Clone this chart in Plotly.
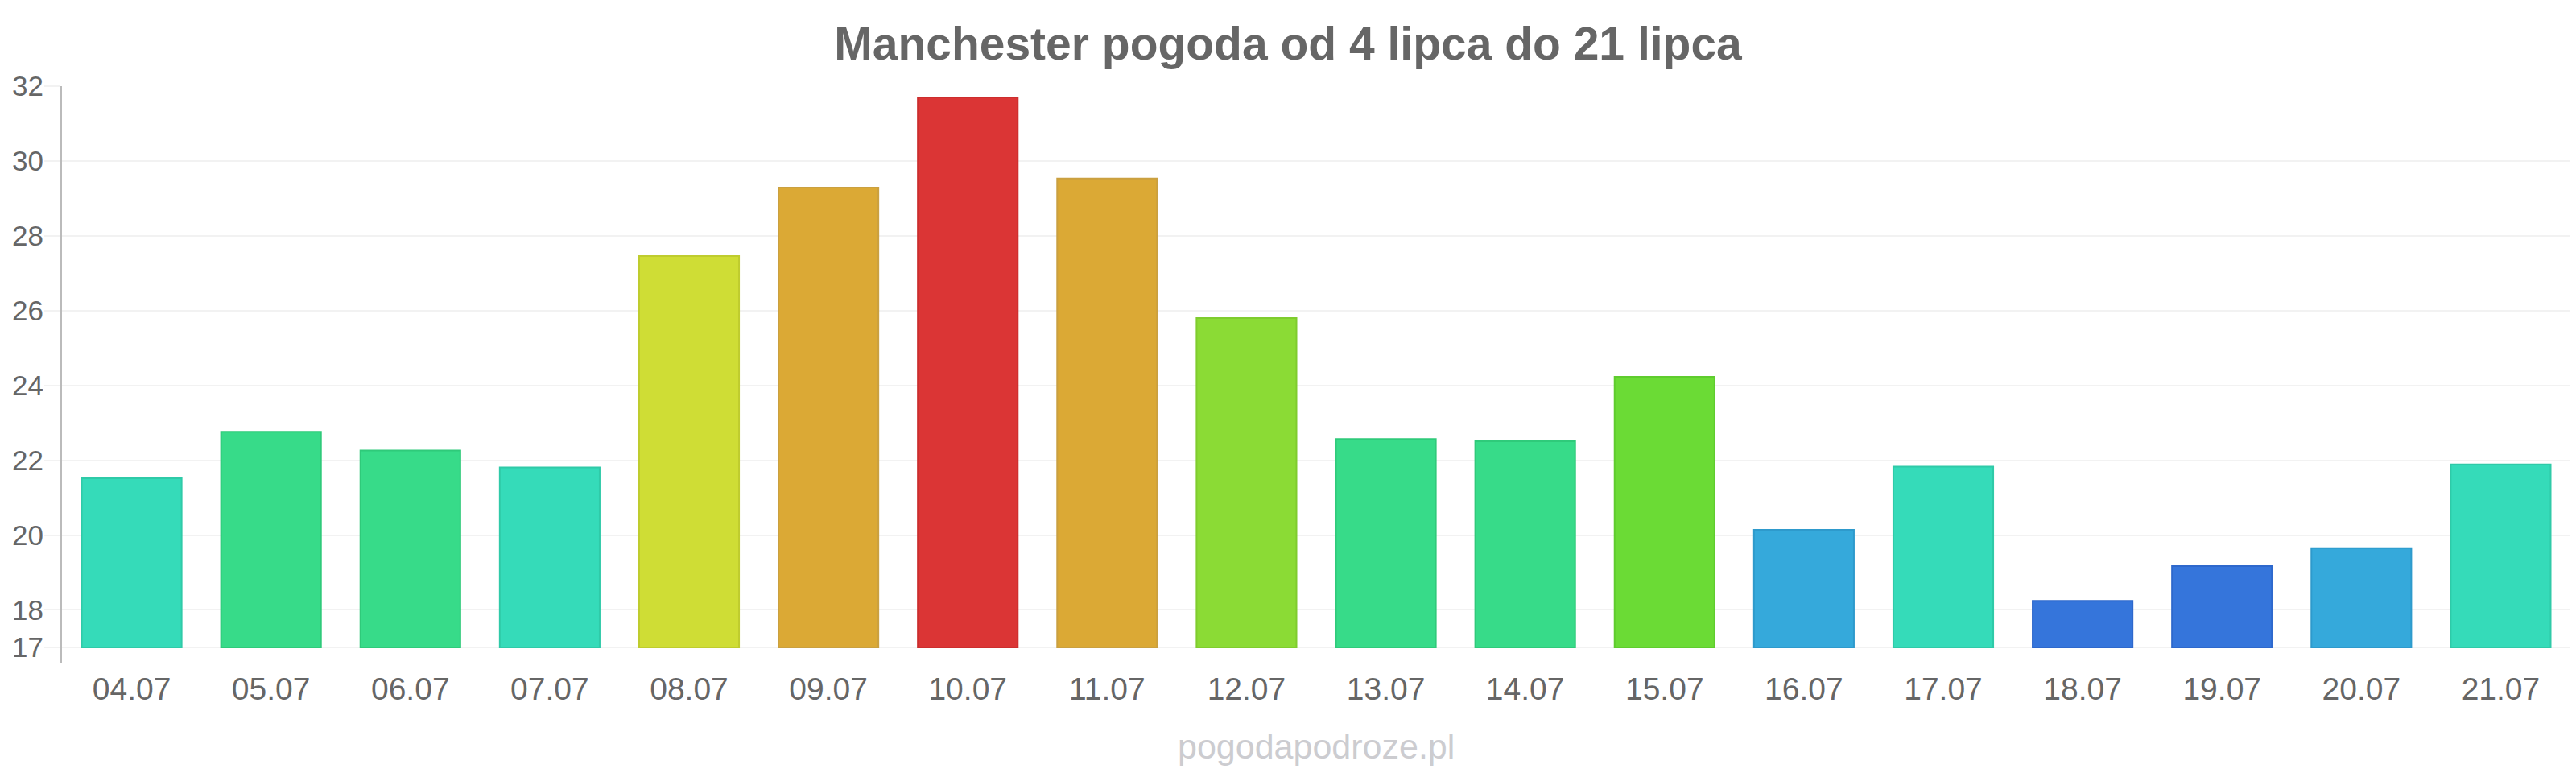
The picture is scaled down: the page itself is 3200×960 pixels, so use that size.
import plotly.graph_objects as go

days = ["04.07", "05.07", "06.07", "07.07", "08.07", "09.07", "10.07", "11.07", "12.07",
        "13.07", "14.07", "15.07", "16.07", "17.07", "18.07", "19.07", "20.07", "21.07"]
temps = [21.52, 22.76, 22.26, 21.81, 27.46, 29.29, 31.70, 29.53, 25.80,
         22.57, 22.51, 24.23, 20.14, 21.83, 18.24, 19.17, 19.65, 21.89]
fill_colors = ["#35dbb9", "#37db89", "#37db89", "#35dbb9", "#cfdd35", "#dba935", "#db3535", "#dba935", "#8bdb35",
               "#37db89", "#37db89", "#6bdb35", "#35a9db", "#35dbb9", "#3575db", "#3575db", "#35a9db", "#35dbb9"]
line_colors = ["#2fcaa8", "#2fca7a", "#2fca7a", "#2fcaa8", "#bfcc2e", "#caa040", "#cc2e2e", "#caa040", "#7fcc2e",
               "#2fca7a", "#2fca7a", "#5fcc2e", "#2e9acc", "#2fcaa8", "#2e68cc", "#2e68cc", "#2e9acc", "#2fcaa8"]
y_ticks = [17, 18, 20, 22, 24, 26, 28, 30, 32]
base_value = 17

fig = go.Figure()
fig.add_trace(go.Bar(
    x=days,
    y=[t - base_value for t in temps],
    base=base_value,
    marker=dict(color=fill_colors, line=dict(color=line_colors, width=2)),
    hovertext=[f"{t}" for t in temps],
))

fig.update_layout(
    width=3200, height=960,
    margin=dict(l=77, r=7, t=107, b=137),
    paper_bgcolor="white", plot_bgcolor="white",
    bargap=0.283,
    showlegend=False,
    font=dict(family="Liberation Sans, Arial, sans-serif", color="#666666"),
    title=dict(
        text="<b>Manchester pogoda od 4 lipca do 21 lipca</b>",
        font=dict(size=57, color="#666666", family="Liberation Sans, Arial, sans-serif"),
        x=0.5, xref="container", xanchor="center",
        y=1 - 54 / 960, yref="container", yanchor="middle",
    ),
    xaxis=dict(
        type="category",
        showgrid=False, showline=False, zeroline=False,
        tickfont=dict(size=39, color="#666666"),
        ticks="", ticklabelstandoff=6,
    ),
    yaxis=dict(
        range=[16.59, 32],
        tickvals=y_ticks,
        ticktext=[str(v) for v in y_ticks],
        showgrid=True, gridcolor="#f2f2f2", gridwidth=2,
        showline=True, linecolor="#bbbbbb", linewidth=2,
        zeroline=False,
        ticks="outside", ticklen=20, tickcolor="#f2f2f2", tickwidth=2,
        tickfont=dict(size=35, color="#666666"),
        ticklabelstandoff=-6,
    ),
    annotations=[dict(
        text="pogodapodroze.pl",
        x=0.5, xref="paper", xanchor="center",
        y=-(927 - 823) / (823 - 107), yref="paper", yanchor="middle",
        showarrow=False,
        font=dict(size=43, color="#ccccd0", family="Liberation Sans, Arial, sans-serif"),
    )],
)

fig.write_html("out.html")
